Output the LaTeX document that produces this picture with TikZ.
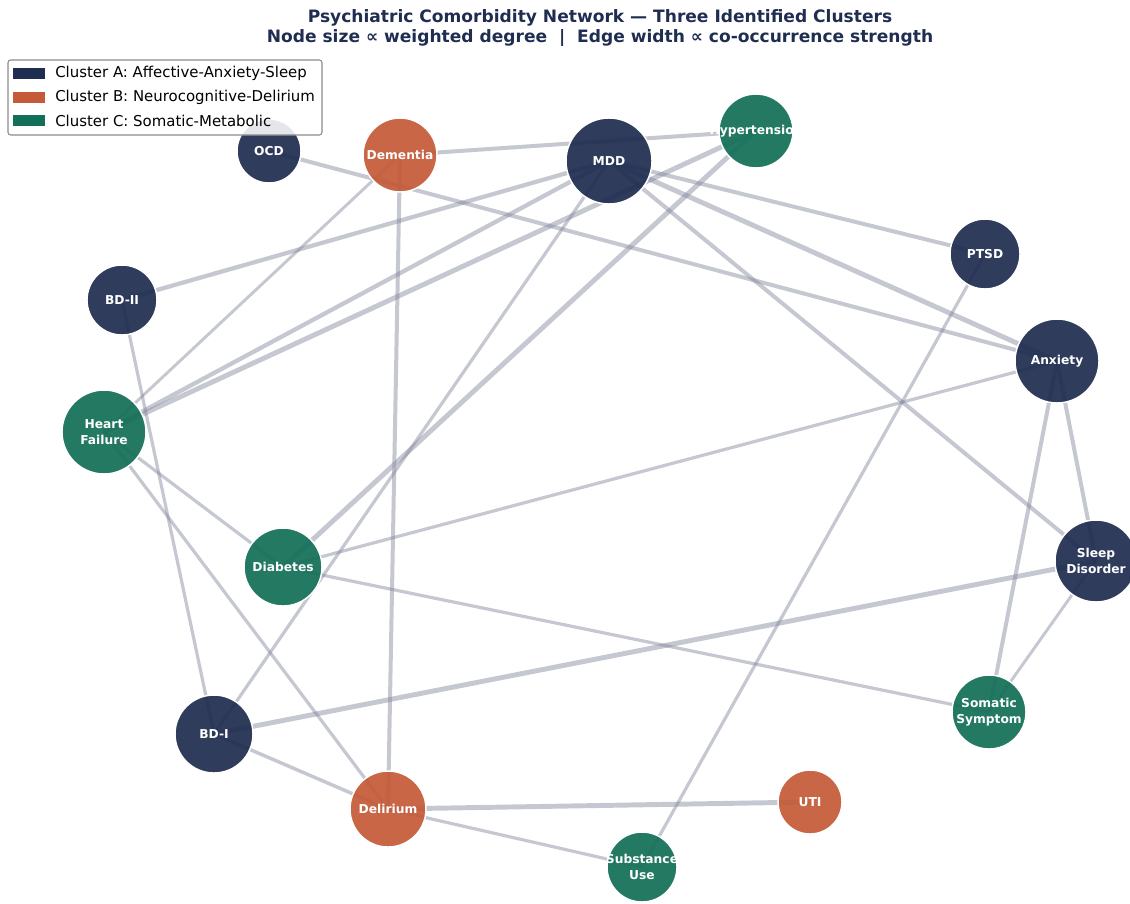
\documentclass[tikz,border=0pt]{standalone}
\usepackage{fontspec}
\setmainfont{DejaVu Sans}
\usepackage{tikz}
\usetikzlibrary{backgrounds}

\definecolor{clusterA}{HTML}{1F2D50}
\definecolor{clusterB}{HTML}{C45A38}
\definecolor{clusterC}{HTML}{136F57}
\definecolor{linkgrey}{HTML}{7F8498}
\definecolor{titleblue}{HTML}{1F2D50}

\tikzset{
  disorder/.style={circle,draw=white,line width=1.1pt,fill opacity=0.93,inner sep=0pt},
  nodesize/.style={minimum size=#1*1.5pt},
  nodetext/.style={text=white,font=\fontsize{9.2}{12}\selectfont\bfseries,align=center,inner sep=0pt},
  link/.style={draw=linkgrey,draw opacity=0.45},
  legendtext/.style={right,font=\fontsize{11.2}{13}\selectfont,inner sep=0pt}
}

\begin{document}
\begin{tikzpicture}[x=0.75pt,y=-0.75pt]
\useasboundingbox (0,0) rectangle (1130,903);

% title
\node[font=\fontsize{12.8}{15.5}\selectfont\bfseries,text=titleblue,align=center] (title) at (600,28)
  {Psychiatric Comorbidity Network — Three Identified Clusters\\
   Node size ∝ weighted degree \ | \ Edge width ∝ co-occurrence strength};

% disorders
\node[disorder,fill=clusterA,nodesize=32,label={[nodetext]center:OCD}] (ocd) at (269,151) {};
\node[disorder,fill=clusterB,nodesize=37,label={[nodetext]center:Dementia}] (dem) at (400,155) {};
\node[disorder,fill=clusterA,nodesize=43,label={[nodetext]center:MDD}] (mdd) at (609,161) {};
\node[disorder,fill=clusterC,nodesize=37,label={[nodetext]center:Hypertension}] (hyp) at (756,131) {};
\node[disorder,fill=clusterA,nodesize=35,label={[nodetext]center:PTSD}] (ptsd) at (985,254) {};
\node[disorder,fill=clusterA,nodesize=35,label={[nodetext]center:BD-II}] (bdii) at (122,300) {};
\node[disorder,fill=clusterA,nodesize=42,label={[nodetext]center:Anxiety}] (anx) at (1057,361) {};
\node[disorder,fill=clusterC,nodesize=42,label={[nodetext]center:{Heart\\Failure}}] (hf) at (104,432) {};
\node[disorder,fill=clusterC,nodesize=39,label={[nodetext]center:Diabetes}] (diab) at (283,567) {};
\node[disorder,fill=clusterA,nodesize=41,label={[nodetext]center:{Sleep\\Disorder}}] (sleep) at (1096,561) {};
\node[disorder,fill=clusterC,nodesize=37,label={[nodetext]center:{Somatic\\Symptom}}] (som) at (989,712) {};
\node[disorder,fill=clusterA,nodesize=39,label={[nodetext]center:BD-I}] (bdi) at (214,734) {};
\node[disorder,fill=clusterB,nodesize=38,label={[nodetext]center:Delirium}] (del) at (388,809) {};
\node[disorder,fill=clusterB,nodesize=32,label={[nodetext]center:UTI}] (uti) at (810,802) {};
\node[disorder,fill=clusterC,nodesize=35,label={[nodetext]center:{Substance\\Use}}] (sub) at (642,867) {};

% co-occurrence links, behind the disorders
\begin{scope}[on background layer]
\foreach \a/\b/\w in {mdd/anx/3.7, hf/hyp/3.7, diab/hyp/3.7, bdi/sleep/3.7, del/uti/3.7,
    hf/mdd/3.2, bdii/mdd/3.2, mdd/ptsd/3, mdd/sleep/3, ocd/anx/3, dem/hyp/3, dem/del/3,
    anx/som/3, anx/sleep/3, hf/dem/2.2, hf/diab/2.4, hf/del/2.4, bdii/bdi/2.4, bdi/mdd/2.4,
    diab/anx/2.4, diab/som/2.4, ptsd/sub/2.4, sleep/som/2.2, bdi/del/2.6, del/sub/2.4}
  \draw[link,line width=\w pt] (\a.center) -- (\b.center);
\end{scope}

% legend
\draw[draw=black!45,fill=white,fill opacity=0.88,rounded corners=2pt,line width=0.8pt] (8,60) rectangle (322,135);
\fill[clusterA] (13,68) rectangle (45,79);
\node[legendtext] (legA) at (55,73.5) {Cluster A: Affective-Anxiety-Sleep};
\fill[clusterB] (13,92) rectangle (45,103);
\node[legendtext] (legB) at (55,97.5) {Cluster B: Neurocognitive-Delirium};
\fill[clusterC] (13,115) rectangle (45,126);
\node[legendtext] (legC) at (55,120.5) {Cluster C: Somatic-Metabolic};
\end{tikzpicture}
\end{document}
